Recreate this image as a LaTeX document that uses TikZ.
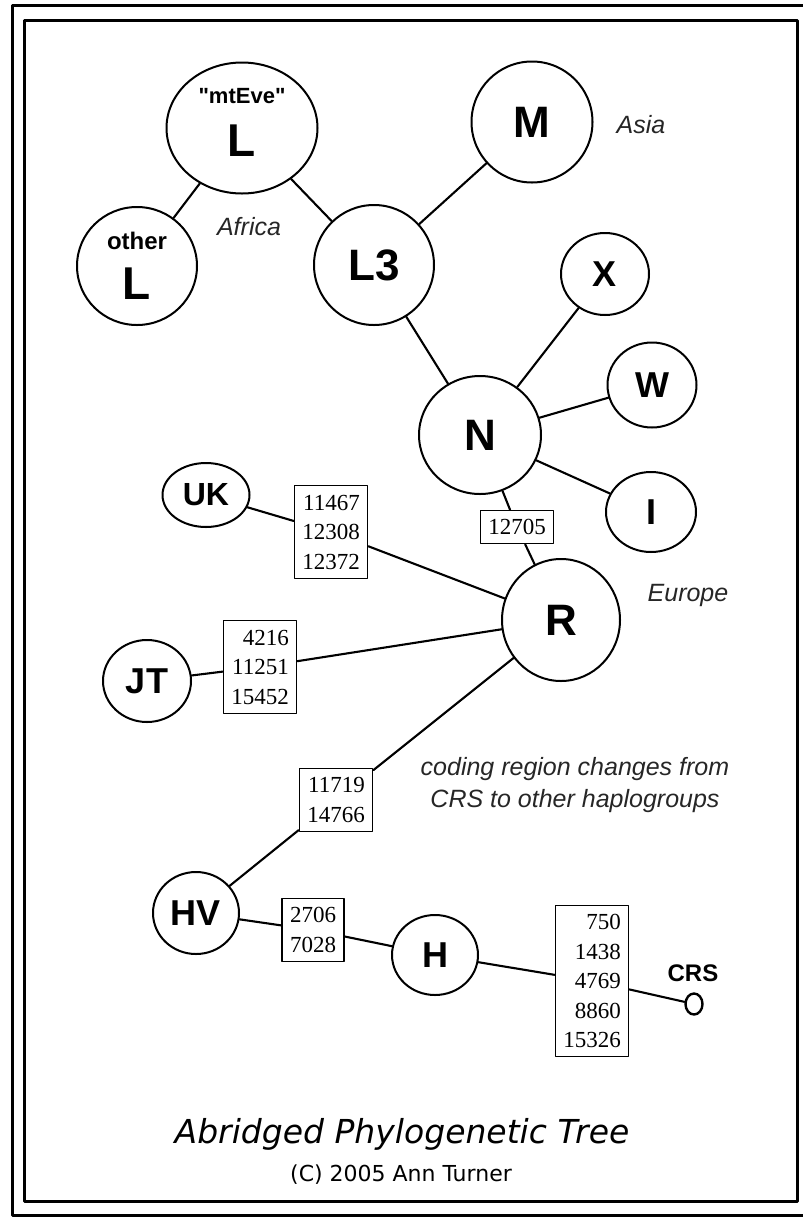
\documentclass[tikz,border=0pt]{standalone}
\usepackage{fontspec}
\setmainfont{Liberation Sans}[Ligatures=TeXOff]
\newfontfamily\numfont{Liberation Serif}
\newfontfamily\verdfont{DejaVu Sans}
\usetikzlibrary{shapes.geometric}

\begin{document}
\begin{tikzpicture}[x=1bp,y=-1bp,line cap=round,line join=round,
  hap/.style={draw,ellipse,line width=2bp,inner sep=0pt,
    font=\bfseries\fontsize{36bp}{36bp}\selectfont},
  hapbig/.style={hap,font=\bfseries\fontsize{44bp}{44bp}\selectfont},
  mut/.style={draw,line width=1.1bp,inner xsep=8bp,inner ysep=9bp,align=right,
    font=\numfont\fontsize{23bp}{29.5bp}\selectfont},
  region/.style={font=\itshape\fontsize{25bp}{32bp}\selectfont,text=black!85},
  conn/.style={line width=2.1bp}]
  \useasboundingbox (0,0) rectangle (803,1218);
  % double frame, the outer one runs off the right edge
  \draw[line width=3bp] (803,5) -- (12,5) -- (12,1215) -- (803,1215);
  \draw[line width=3bp] (24,20) rectangle (797,1201);

  % haplogroups
  \node[hap,minimum width=151bp,minimum height=131bp,align=center,text depth=11bp,
    font=\bfseries\fontsize{46bp}{53bp}\selectfont] (mtL) at (242,128)
    {{\fontsize{22bp}{22bp}\selectfont"mtEve"}\\L};
  \node[hap,minimum width=120bp,minimum height=118bp,align=center,text depth=-25bp,
    font=\bfseries\fontsize{46bp}{50bp}\selectfont] (othL) at (137,266)
    {{\fontsize{24bp}{24bp}\selectfont other}\\L};
  \node[hapbig,minimum size=120bp] (L3) at (374,265) {L3};
  \node[hapbig,minimum size=121bp] (M) at (532,122) {M};
  \node[hap,minimum width=88bp,minimum height=82bp] (X) at (605,274) {X};
  \node[hap,minimum width=89bp,minimum height=85bp] (W) at (652,385) {W};
  \node[hapbig,minimum width=122bp,minimum height=118bp] (N) at (480,435) {N};
  \node[hap,minimum width=90bp,minimum height=80bp] (I) at (651,512) {I};
  \node[hapbig,minimum width=118bp,minimum height=122bp] (R) at (561,620) {R};
  \node[hap,minimum width=87bp,minimum height=64bp,
    font=\bfseries\fontsize{32bp}{32bp}\selectfont] (UK) at (206,495) {UK};
  \node[hap,minimum width=88bp,minimum height=82bp] (JT) at (147,681) {JT};
  \node[hap,minimum width=86bp,minimum height=82bp] (HV) at (196,913) {HV};
  \node[hap,minimum width=86bp,minimum height=80bp] (H) at (435,955) {H};
  \node[draw,ellipse,line width=2.4bp,minimum width=17bp,minimum height=21bp,
    inner sep=0pt] (crs) at (694,1004) {};
  \node[font=\bfseries\fontsize{24bp}{24bp}\selectfont] (crsname) at (693,973) {CRS};

  % coding region changes
  \node[mut] (m12705) at (517,527) {12705};
  \node[mut] (m11467) at (331,532) {11467\\12308\\12372};
  \node[mut] (m4216) at (260,667) {4216\\11251\\15452};
  \node[mut] (m11719) at (336,800) {11719\\14766};
  \node[mut] (m2706) at (313,930) {2706\\7028};
  \node[mut] (m750) at (592,981) {750\\1438\\4769\\8860\\15326};

  \foreach \a/\b in {mtL/othL,mtL/L3,L3/M,L3/N,N/X,N/W,N/I,N/m12705,m12705/R,
    UK/m11467,m11467/R,JT/m4216,m4216/R,R/m11719,m11719/HV,HV/m2706,m2706/H,
    H/m750,m750/crs}
    \draw[conn] (\a) -- (\b);

  \node[region] (africa) at (249,227) {Africa};
  \node[region] (asia) at (641,125) {Asia};
  \node[region] (europe) at (688,595) {Europe};
  \node[region,align=center] (coding) at (575,785)
    {coding region changes from\\CRS to other haplogroups};

  \node[font=\verdfont\itshape\fontsize{33bp}{33bp}\selectfont] (title) at (402,1134)
    {Abridged Phylogenetic Tree};
  \node[font=\verdfont\fontsize{22bp}{22bp}\selectfont] (copy) at (401,1175)
    {(C) 2005 Ann Turner};
\end{tikzpicture}
\end{document}
